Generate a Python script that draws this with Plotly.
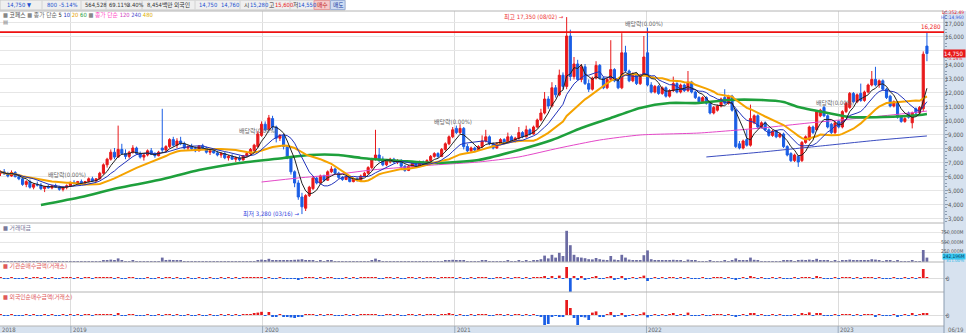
import plotly.graph_objects as go
import pandas as pd

# ---------------- data ----------------
opens = [6200,6300,6150,6000,6250,5950,5800,5400,5600,5200,
 5400,5350,5100,5250,5150,5300,5200,5050,5200,5300,
 5550,5450,5600,5500,5600,5800,5650,5800,6200,6800,
 7200,7700,7350,7900,7600,7400,7700,8000,7600,7350,
 7500,7800,7550,7450,8000,7850,8100,8600,8200,8500,
 8300,8000,8100,7950,7800,8150,8000,7700,7800,7650,
 7500,7600,7300,7400,7200,7300,7150,7450,7600,7800,
 8100,8900,9700,9300,10100,9500,8700,8900,8100,7300,
 6300,5500,4500,3700,4600,5100,5850,5500,6000,5700,
 6300,6500,6200,5900,5750,5950,5600,5800,5700,6000,
 6200,6600,7200,7500,7200,6800,7000,7200,7000,7100,
 6700,6400,6700,6900,6700,7000,6800,7100,7400,7600,
 7400,7900,8300,8800,9400,9100,9400,8100,7800,8000,
 7850,8100,8500,8800,8300,8000,8300,8600,8400,8800,
 8500,8700,9100,8800,9300,9000,9500,10000,10500,11500,
 11000,12300,11800,13200,12400,16000,13100,14000,12900,13800,
 12600,12200,13000,13900,13000,12300,12900,13600,12800,12300,
 14800,13500,12800,13300,12600,13200,14800,12500,12000,12400,
 11900,12300,11700,12100,12600,12000,12500,12100,12700,12000,
 11600,11300,11600,11200,10500,10700,11000,11600,11200,11700,
 10700,8300,8000,8600,8200,9800,10300,9500,9800,9300,
 8900,9200,8800,9000,8100,7600,7100,7400,7100,8400,
 8600,9500,9300,10300,10900,10300,9700,9100,9900,9500,
 10600,10900,11900,11300,11900,11400,12000,12500,12900,12500,
 12800,12200,11700,11000,11200,10200,9900,10500,9800,10800,
 10500,10800,15280]
highs = [6400,6500,6300,6400,6350,6100,5900,5700,5750,5500,
 5600,5500,5300,5400,5350,5450,5300,5250,5400,5600,
 5700,5650,5750,5650,5900,5950,5850,6300,6900,7300,
 7900,8000,9600,8300,7900,7800,8200,8100,7750,7600,
 7900,8000,7700,7800,10800,8200,8700,8800,8700,8800,
 8450,8200,8300,8100,8200,8300,8100,7900,7950,7800,
 7700,7700,7500,7550,7400,7450,7500,7700,8000,8300,
 9200,9900,9900,10360,10300,9600,9000,9000,8200,7400,
 6400,5700,4800,4700,5300,6000,5950,6100,6100,6400,
 6700,6600,6300,6000,6050,6000,5900,5900,6100,6300,
 6700,7300,9300,8000,7400,7200,7300,7300,7200,7200,
 6800,6800,7000,7000,7100,7100,7200,7500,7700,7700,
 8000,8400,8900,9500,9600,9700,9500,8300,8100,8100,
 8200,8900,9300,8900,8400,8400,8700,8700,9100,8900,
 8800,9500,9200,9600,9400,9600,10100,10800,12000,11700,
 12700,12500,13600,13400,17350,16450,14500,14300,14000,14000,
 12900,13100,14200,14000,13100,13000,15700,13700,12900,16200,
 15300,13600,13400,13400,13300,16000,16600,12700,12500,12500,
 12400,12400,12200,13100,12700,12600,12600,13500,12800,12100,
 11700,11700,11700,11300,11000,11100,11600,12200,11800,11800,
 10800,8500,8600,9300,11100,10400,10400,9900,9900,9400,
 9300,9300,9100,9100,8200,7700,7600,7500,8500,8900,
 9600,9600,10700,10800,11000,10400,9800,9900,10000,10700,
 11300,12000,12000,11900,12600,12100,12600,13500,13800,12900,
 12900,12300,11800,11400,11300,10300,10200,10600,10600,10900,
 11000,14900,16280]
lows = [6000,6100,5900,5950,5900,5700,5300,5200,5100,5050,
 5250,5000,4850,5100,5050,5150,4950,4900,5050,5250,
 5400,5350,5450,5350,5550,5600,5550,5750,6100,6600,
 7100,7200,7300,7500,7200,7250,7600,7500,7250,7100,
 7400,7500,7300,7400,7700,7700,8000,8100,8000,8200,
 7900,7800,7850,7700,7750,7900,7600,7500,7600,7400,
 7300,7200,7100,7150,7000,7050,7100,7350,7500,7800,
 8000,8800,9200,9250,9300,8400,8500,7900,7200,6100,
 5200,4300,3280,3500,4500,5000,5400,5450,5600,5650,
 6200,6100,5800,5650,5700,5550,5550,5600,5650,5950,
 6100,6500,7100,7000,6700,6700,6900,6900,6850,6600,
 6300,6350,6600,6600,6650,6700,6750,7000,7300,7300,
 7350,7800,8200,8700,9000,9000,7900,7700,7700,7700,
 7800,8000,8400,8200,7900,7950,8200,8300,8350,8400,
 8400,8600,8700,8750,8900,8950,9400,9900,10400,10800,
 10900,11600,11700,12200,12200,12800,12900,12800,12700,12500,
 12000,12100,12900,12900,12200,12200,12800,12700,12200,12200,
 13400,12700,12700,12500,12500,13100,12400,11900,11900,11800,
 11800,11600,11600,12000,11900,11900,12000,12000,11900,11500,
 11200,11200,11100,10400,10400,10600,10900,11100,11100,10600,
 8000,7900,7900,8100,8100,9700,9400,9400,9200,8800,
 8800,8700,8700,8000,7400,7000,7000,6650,7000,8300,
 8500,9000,9200,10200,10200,9400,9000,9000,9400,9400,
 10500,10800,11200,11200,11300,11300,11900,12400,12400,12300,
 12100,11500,10900,10900,10100,9800,9800,10100,9400,10400,
 10400,10600,14200]
closes = [6300,6150,6000,6250,5950,5800,5400,5600,5200,5400,
 5350,5100,5250,5150,5300,5200,5050,5200,5300,5550,
 5450,5600,5500,5600,5800,5650,5800,6200,6800,7200,
 7700,7350,7900,7600,7400,7700,8000,7600,7350,7500,
 7800,7550,7450,7700,7850,8100,8600,8200,8500,8300,
 8000,8100,7950,7800,8150,8000,7700,7800,7650,7500,
 7600,7300,7400,7200,7300,7150,7450,7600,7900,8200,
 9000,9700,9300,10150,9500,8700,8900,8100,7300,6300,
 5500,4500,3800,4600,5200,5850,5500,6000,5700,6300,
 6500,6200,5900,5750,5950,5600,5800,5700,6000,6200,
 6600,7200,7500,7100,6800,7100,7200,7000,7100,6700,
 6400,6700,6900,6700,7000,6800,7100,7400,7600,7400,
 7900,8300,8800,9300,9100,9400,8100,7800,8000,7850,
 8100,8500,8800,8300,8000,8300,8600,8400,8800,8500,
 8700,9100,8800,9300,9000,9500,10000,10500,11500,11000,
 12300,11800,13200,12400,16000,13100,14000,12900,13800,12600,
 12200,13000,13900,13000,12300,12900,13600,12800,12300,14800,
 13500,12800,13300,12600,13200,14500,12500,12000,12400,11900,
 12300,11700,12100,12600,12000,12500,12100,12700,12000,11600,
 11300,11600,11200,10500,10900,11000,11500,11200,11700,10700,
 8100,8000,8500,8200,10100,10300,9500,9800,9300,8900,
 9200,8800,9000,8100,7500,7100,7500,7000,8400,8800,
 9500,9100,10600,10700,10300,9500,9100,9800,9500,10600,
 11200,11900,11300,11800,11400,12000,12500,12900,12500,12800,
 12200,11600,11000,11300,10200,9900,10100,10200,10500,10500,
 10900,14700,14750]

turnover_m = [22000,15000,12000,18000,14000,12000,20000,15000,13000,11000,
 10000,12000,14000,9000,8000,9000,11000,10000,12000,15000,
 10000,9000,8000,9000,14000,12000,11000,25000,45000,50000,
 60000,35000,90000,40000,25000,20000,30000,22000,18000,15000,
 20000,16000,14000,18000,110000,40000,55000,35000,30000,28000,
 20000,15000,14000,12000,18000,15000,13000,12000,11000,10000,
 12000,11000,10000,9000,10000,9000,12000,15000,20000,25000,
 45000,60000,40000,80000,50000,40000,30000,35000,40000,45000,
 55000,60000,70000,50000,40000,45000,25000,30000,20000,35000,
 30000,20000,18000,15000,14000,16000,12000,11000,14000,18000,
 25000,40000,85000,35000,20000,18000,15000,14000,12000,15000,
 14000,13000,15000,12000,14000,12000,15000,20000,22000,16000,
 25000,35000,45000,55000,35000,40000,45000,25000,18000,15000,
 16000,30000,40000,22000,18000,16000,20000,15000,30000,20000,
 18000,35000,22000,38000,25000,30000,50000,70000,160000,90000,
 180000,110000,230000,150000,780000,420000,180000,120000,110000,95000,
 70000,65000,100000,70000,55000,50000,150000,60000,45000,180000,
 110000,60000,45000,40000,50000,170000,290000,70000,45000,35000,
 30000,35000,28000,55000,30000,28000,25000,60000,35000,28000,
 22000,20000,18000,30000,20000,18000,25000,40000,22000,30000,
 90000,40000,30000,35000,110000,55000,35000,25000,20000,22000,
 18000,20000,15000,30000,35000,30000,20000,28000,55000,40000,
 60000,35000,80000,50000,35000,30000,25000,28000,20000,45000,
 40000,60000,35000,30000,45000,35000,40000,70000,60000,30000,
 25000,28000,30000,15000,35000,22000,18000,20000,30000,20000,
 25000,300000,110000]

inst_net_m = [120,-80,-150,60,-40,-200,-300,100,-90,40,
 30,-60,80,-30,20,-50,-100,70,40,90,
 -40,30,-20,50,60,-30,20,150,300,250,
 400,-200,500,-150,-100,60,120,-80,-60,-40,
 50,-30,-20,40,-400,200,300,-150,100,-80,
 -100,40,-50,-30,80,-40,-60,30,-20,-40,
 30,-50,20,-30,40,-20,50,80,120,150,
 300,400,-200,500,-300,-250,100,-200,-300,-400,
 -500,-600,-400,300,250,200,-150,100,-80,120,
 80,-100,-120,-60,40,-80,30,-20,60,90,
 150,200,300,-200,-150,60,40,-50,30,-60,
 -80,50,70,-40,60,-30,50,90,100,-50,
 120,200,250,300,-150,150,-400,-200,50,-40,
 60,200,150,-100,-80,60,100,-60,150,-70,
 50,200,-90,250,-100,150,250,400,600,-300,
 800,-400,1200,-500,5500,-7500,800,-900,600,-700,
 -400,300,700,-500,-400,200,900,-600,-300,1000,
 -700,-300,200,-250,300,1200,-1500,-400,200,-300,
 200,-250,150,300,-200,150,-100,350,-250,-200,
 -150,100,-120,-300,150,100,200,-200,150,-350,
 -900,-300,200,-150,700,300,-250,150,-120,-200,
 120,-150,100,-300,-350,-250,150,-200,400,300,
 500,-200,600,300,-300,-250,-200,200,-150,350,
 300,450,-200,200,-250,200,250,400,-350,150,
 -200,-250,-300,100,-350,-200,100,-150,250,-100,
 200,4500,300]

foreign_net_m = [200,-100,-150,80,-60,-300,-250,150,-120,60,
 -40,-80,100,-50,30,-60,-150,80,-60,100,
 -50,40,-30,60,80,-40,30,200,400,300,
 500,-300,700,-200,-150,80,150,-100,-80,-60,
 60,-40,-30,50,-500,250,350,-200,150,-100,
 -120,50,-60,-40,100,-50,-80,40,-30,-50,
 40,-60,30,-40,50,-30,60,100,500,800,
 1200,1600,-500,1500,-800,-600,200,-1000,-800,-1200,
 -1500,-1000,-600,400,300,250,-200,150,-100,150,
 100,-120,-150,-80,60,-100,40,-30,80,120,
 200,300,400,-300,-200,80,60,-70,40,-80,
 -100,60,90,-50,80,-40,60,120,150,-60,
 200,400,600,500,-200,300,-500,-300,80,-60,
 80,300,200,-150,-100,80,150,-80,500,-100,
 60,250,-120,300,-150,200,-300,-800,-5000,-4500,
 -600,-500,-1000,-800,7500,3500,-1500,-5000,-800,-1200,
 -2500,1200,1800,-1000,-600,300,1500,-700,-500,800,
 -900,-400,300,-300,500,1300,-1200,-500,300,-400,
 300,-300,200,900,-300,300,-200,1200,-400,-300,
 -200,150,-150,-400,200,150,300,-300,200,-400,
 -800,-400,300,-200,1000,600,-300,200,-150,-300,
 150,-200,100,-400,-500,-300,200,-300,600,400,
 1300,-300,800,1000,-400,-300,-250,250,-200,400,
 300,500,-300,200,-400,300,200,400,-600,200,
 -300,-400,-500,150,-600,-300,100,-200,900,-150,
 300,700,800]

# moving averages (week index, value)
ma60_idx = [11,22,32,43,54,65,77,84,92,98,109,118,130,141,150,158,166,174,182,190,198,207,213,217,225,231,240,250,252]
ma60_val = [3930,4500,5140,5710,6430,6930,7290,7500,7500,7290,7070,6930,7140,7860,8570,9430,10140,10860,11210,11210,11430,11430,11290,10930,10500,10210,10210,10360,10430]
ma120_idx = [71,81,90,101,118,130,141,152,163,174,190,207,220,234,245,252]
ma120_val = [5570,5860,6070,6430,6790,7000,7360,8000,8570,8930,9070,9430,9790,10140,10430,10640]
ma240_idx = [192,207,223,239,252]
ma240_val = [7360,7710,8140,8570,8860]

year_ticks = ["2019-01-01", "2020-01-01", "2021-01-01", "2022-01-01", "2023-01-01"]
year_labels = ["2019", "2020", "2021", "2022", "2023"]
price_ticks = list(range(3000, 18000, 1000))
vol_ticks = [250000, 500000, 750000]
exdiv_idx = [18, 70, 123, 175, 227]
exdiv_y = [6071, 9214, 9857, 16857, 11214]

# ---------------- derived ----------------
dates = pd.date_range("2018-08-20", periods=len(closes), freq="7D")
cs = pd.Series(closes, dtype=float)
ma5 = cs.rolling(5, min_periods=1).mean()
ma10 = cs.rolling(10, min_periods=1).mean()
ma20 = cs.rolling(20, min_periods=1).mean()

FONT = "Noto Sans CJK KR"
NARROW = "Liberation Sans Narrow, DejaVu Sans Condensed, Roboto Condensed, Noto Sans CJK KR"
W, H = 966, 333
MT, MB, MR = 11, 7, 22
PH = H - MT - MB
PW = W - MR
BOT = H - MB
RED = "#e8191b"
BLUE = "#1a5ee5"

def py(y):
    return (BOT - y) / PH

def px(x):
    return x / PW

XR = ["2018-08-19 01:00", "2023-07-21 12:00"]

fig = go.Figure()
fig.add_trace(go.Candlestick(
    x=dates, open=opens, high=highs, low=lows, close=closes,
    increasing=dict(line=dict(color=RED, width=1), fillcolor=RED),
    decreasing=dict(line=dict(color=BLUE, width=1), fillcolor=BLUE),
    whiskerwidth=0, xaxis="x", yaxis="y", hoverinfo="skip", showlegend=False))

def line(xv, yv, color, width):
    fig.add_trace(go.Scatter(x=xv, y=yv, mode="lines", line=dict(color=color, width=width, shape="spline", smoothing=0.6),
                             xaxis="x", yaxis="y", hoverinfo="skip", showlegend=False))

line([dates[i] for i in ma240_idx], ma240_val, "#3a4cc0", 1)
line([dates[i] for i in ma120_idx], ma120_val, "#e448c8", 1)
line([dates[i] for i in ma60_idx], ma60_val, "#1ea03c", 2.6)
fig.add_trace(go.Scatter(x=dates, y=ma20, mode="lines", line=dict(color="#f5a300", width=2), hoverinfo="skip", showlegend=False))
fig.add_trace(go.Scatter(x=dates, y=ma10, mode="lines", line=dict(color="#2233bb", width=1), hoverinfo="skip", showlegend=False))
fig.add_trace(go.Scatter(x=dates, y=ma5, mode="lines", line=dict(color="#222222", width=1), hoverinfo="skip", showlegend=False))

BW = 5.2 * 86400000
fig.add_trace(go.Bar(x=dates, y=turnover_m, marker=dict(color="#6b6ba3", line=dict(width=0)), width=BW,
                     xaxis="x2", yaxis="y2", hoverinfo="skip", showlegend=False))
fig.add_trace(go.Bar(x=dates, y=inst_net_m, marker=dict(color=[RED if v >= 0 else BLUE for v in inst_net_m], line=dict(width=0)),
                     width=BW, xaxis="x3", yaxis="y3", hoverinfo="skip", showlegend=False))
fig.add_trace(go.Bar(x=dates, y=foreign_net_m, marker=dict(color=[RED if v >= 0 else BLUE for v in foreign_net_m], line=dict(width=0)),
                     width=BW, xaxis="x4", yaxis="y4", hoverinfo="skip", showlegend=False))

xcommon = dict(type="date", range=XR, showticklabels=False, tickvals=year_ticks, showgrid=True,
               gridcolor="#dcdcdc", gridwidth=1, zeroline=False, showline=False, ticks="", fixedrange=True)
ycommon = dict(side="right", showticklabels=False, zeroline=False, showline=False, fixedrange=True)

fig.update_layout(
    width=W, height=H, margin=dict(l=0, r=MR, t=MT, b=MB),
    paper_bgcolor="white", plot_bgcolor="white", boxgap=0.18,
    font=dict(family=FONT, size=7, color="#555"),
    xaxis=dict(domain=[0, 1], anchor="y", rangeslider=dict(visible=False), **xcommon),
    xaxis2=dict(domain=[0, 1], anchor="y2", matches="x", **xcommon),
    xaxis3=dict(domain=[0, 1], anchor="y3", matches="x", **xcommon),
    xaxis4=dict(domain=[0, 1], anchor="y4", matches="x", **xcommon),
    yaxis=dict(domain=[py(223), 1], range=[2643, 17786], tickvals=price_ticks, showgrid=True,
               gridcolor="#e6e6e6", ticks="outside", ticklen=3, tickcolor="#8a9bb0",
               minor=dict(ticks="outside", ticklen=1.5, dtick=250, tickcolor="#8a9bb0", showgrid=False), **ycommon),
    yaxis2=dict(domain=[py(262), py(223)], range=[0, 975000], tickvals=vol_ticks, showgrid=True,
                gridcolor="#e6e6e6", ticks="outside", ticklen=3, tickcolor="#8a9bb0", **ycommon),
    yaxis3=dict(domain=[py(292), py(262)], range=[-7000, 8000], tickvals=[0], showgrid=True,
                gridcolor="#dddddd", ticks="outside", ticklen=3, tickcolor="#8a9bb0", **ycommon),
    yaxis4=dict(domain=[0, py(292)], range=[-5500, 11500], tickvals=[0], showgrid=True,
                gridcolor="#dddddd", ticks="outside", ticklen=3, tickcolor="#8a9bb0", **ycommon),
)

shapes = []
AXBG = "#d7e2ef"
shapes.append(dict(type="rect", xref="paper", yref="paper", x0=1, x1=px(W), y0=py(H), y1=py(MT), fillcolor=AXBG, line=dict(width=0), layer="below"))
shapes.append(dict(type="rect", xref="paper", yref="paper", x0=0, x1=px(W), y0=py(H), y1=py(BOT), fillcolor=AXBG, line=dict(width=0), layer="below"))
shapes.append(dict(type="rect", xref="paper", yref="paper", x0=0, x1=px(345), y0=py(10), y1=py(0), fillcolor="#efefef", line=dict(color="#c8c8c8", width=1), layer="below"))
shapes.append(dict(type="rect", xref="paper", yref="paper", x0=px(314), x1=px(330), y0=py(9.5), y1=py(0.5), fillcolor="#f6c9c9", line=dict(color="#e59c9c", width=1), layer="below"))
shapes.append(dict(type="rect", xref="paper", yref="paper", x0=px(330.5), x1=px(345), y0=py(9.5), y1=py(0.5), fillcolor="#cfdcf3", line=dict(color="#9db2d9", width=1), layer="below"))
for sx in [42, 81, 106, 142, 195, 240, 266, 290]:
    shapes.append(dict(type="line", xref="paper", yref="paper", x0=px(sx), x1=px(sx), y0=py(9.5), y1=py(0.5), line=dict(color="#d2d2d2", width=1)))
for yy in [MT, 223, 262, 292, BOT]:
    shapes.append(dict(type="line", xref="paper", yref="paper", x0=0, x1=1, y0=py(yy), y1=py(yy), line=dict(color="#b4b4b4", width=1)))
shapes.append(dict(type="line", xref="paper", yref="paper", x0=1, x1=1, y0=py(H), y1=py(MT), line=dict(color="#8a9bb0", width=1)))
for t in year_ticks:
    shapes.append(dict(type="line", xref="x", yref="paper", x0=t, x1=t, y0=py(H), y1=py(BOT), line=dict(color="#9aaabb", width=1)))
shapes.append(dict(type="line", xref="paper", yref="y", x0=0, x1=1, y0=16280, y1=16280, line=dict(color="#ee1111", width=1.6)))
fig.update_layout(shapes=shapes)

ann = []
def txt(x, y, s, color="#555", size=6, xanchor="left", yanchor="middle", xref="paper", yref="paper", bg=None,
        xshift=0, yshift=0, family=NARROW):
    d = dict(x=x, y=y, text=s, showarrow=False, xref=xref, yref=yref, xanchor=xanchor, yanchor=yanchor,
             font=dict(family=family, size=size, color=color), xshift=xshift, yshift=yshift, borderpad=0)
    if bg:
        d["bgcolor"] = bg
    ann.append(d)

RX = px(965)

# top info bar
for xx, s, c in [(6, "14,750 ▼", "#2050d0"), (46, "800", "#2050d0"), (58, "-5.14%", "#2050d0"), (84, "564,528", "#333"),
                 (108, "69.11%", "#333"), (126, "3.40%", "#333"), (146, "8,454백만", "#333"), (173, "외국인", "#333"),
                 (198, "14,750", "#2050d0"), (220, "14,760", "#2050d0"), (243, "시", "#333"), (249, "15,280", "#2050d0"),
                 (268, "고", "#333"), (274, "15,600", RED), (292, "저", "#333"), (297, "14,550", "#2050d0"),
                 (316, "매수", "#c02020"), (332, "매도", "#2040a0")]:
    txt(px(xx), py(5), s, c, 5.8)

# legend row
legend = ("<span style='color:#888'>■</span> <span style='color:#444'>코페스</span> "
          "<span style='color:#888'>■</span> <span style='color:#666'>종가 단순</span> "
          "<span style='color:#222'>5</span> <span style='color:#2233bb'>10</span> "
          "<span style='color:#e8a000'>20</span> <span style='color:#1ea03c'>60</span> "
          "<span style='color:#888'>■</span> <span style='color:#ff4fc8'>종가 단순</span> "
          "<span style='color:#d040c0'>120</span> <span style='color:#5050d0'>240</span> "
          "<span style='color:#e0b000'>480</span>")
txt(px(2), py(15), legend, "#555", 5.8)
txt(px(2), py(21), "▤", "#888", 6)

# sub panel labels
txt(px(2), py(227.5), "■ 거래대금", "#7a7a9a", 5.8)
txt(px(2), py(266), "■ 기관순매수금액(거래소)", "#e05a5a", 5.8)
txt(px(2), py(297), "■ 외국인순매수금액(거래소)", "#e05a5a", 5.8)

# right axis labels (right-aligned inside the axis column)
for v in price_ticks:
    if v in (15000, 17000):
        continue
    txt(RX, v, f"{v:,}", "#555", 6, yref="y", xanchor="right")
txt(RX, 17000, "17,000", "#555", 6, yref="y", xanchor="right", yshift=-1)
for v in vol_ticks:
    txt(RX, v, f"{v:,}M", "#555", 5, yref="y2", xanchor="right", yshift=(1 if v == 250000 else 0))
txt(RX, 0, "0", "#555", 6, yref="y3", xanchor="right", xshift=-14)
txt(RX, 0, "0", "#555", 6, yref="y4", xanchor="right", xshift=-14)
txt(px(W), 14750, "14,750 ", "white", 6, yref="y", bg=RED, xanchor="right")
txt(RX, 14330, "-5.14%", RED, 4.8, yref="y", xanchor="right", xshift=-2, yshift=1)
txt(RX, py(12.8), "LC:352.49", RED, 4.8, xanchor="right")
txt(RX, py(17.6), "HC:14,960", "#3355dd", 4.8, xanchor="right")
txt(px(W), 150000, "242,196M", "#0a3a60", 4.8, yref="y2", bg="#35c8f2", xanchor="right")
txt(RX, 30000, "311.00%", "#20b5e8", 4.5, yref="y2", xanchor="right")

# x labels
txt(px(1), py(329.8), "2018", "#666", 6)
for t, s in zip(year_ticks, year_labels):
    txt(t, py(329.8), s, "#666", 6, xref="x", xshift=1)
txt(RX, py(329.8), "06/19", "#666", 6, xanchor="right")

# chart annotations
txt(0.998, 16280, "16,280", "#ee1111", 6.2, xanchor="right", yanchor="bottom", yref="y", yshift=1)
txt(dates[154], 17350, "최고 17,350 (08/02) →", "#ee3333", 6, xanchor="right", xref="x", yref="y", xshift=-2)
txt(dates[82], 3280, "최저 3,280 (03/16) →", "#3344dd", 6, xanchor="right", xref="x", yref="y", xshift=-2)
for i, yv in zip(exdiv_idx, exdiv_y):
    txt(dates[i], yv, "배당락(0.00%)", "#666", 6, xanchor="center", xref="x", yref="y")

fig.update_layout(annotations=ann)
fig.write_html("out.html")
